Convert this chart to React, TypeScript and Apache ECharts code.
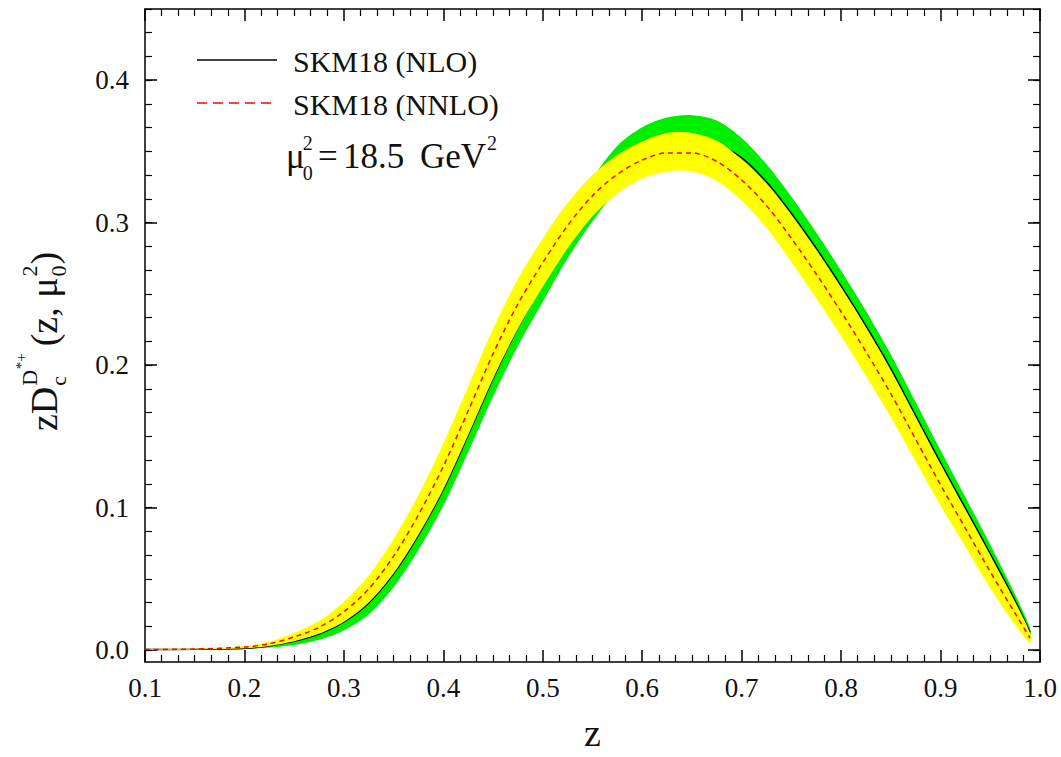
import React, { useEffect, useRef } from 'react';
import * as echarts from 'echarts';

const FONT = '"Liberation Serif", "Times New Roman", Times, serif';
const TEXT_COLOR = '#111111';

// momentum fraction z
const zValues = [
  0.1, 0.15, 0.2, 0.225, 0.25, 0.275, 0.3, 0.325, 0.35, 0.375, 0.4, 0.425,
  0.45, 0.475, 0.5, 0.525, 0.55, 0.575, 0.6, 0.625, 0.65, 0.675, 0.7, 0.725,
  0.75, 0.775, 0.8, 0.825, 0.85, 0.875, 0.9, 0.925, 0.95, 0.975, 0.99,
];

// SKM18 (NNLO) central curve and its (yellow) uncertainty band
const nnloCentral = [
  0.0005, 0.0008, 0.0022, 0.0045, 0.0093, 0.016, 0.027, 0.043, 0.066, 0.095,
  0.129, 0.168, 0.208, 0.243, 0.272, 0.298, 0.319, 0.334, 0.344, 0.349, 0.349,
  0.343, 0.33, 0.312, 0.289, 0.264, 0.2375, 0.2095, 0.18, 0.148, 0.116, 0.0855,
  0.055, 0.0258, 0.0085,
];
const nnloLower = [
  0.0003, 0.0005, 0.0014, 0.003, 0.0063, 0.0115, 0.02, 0.0335, 0.054, 0.081,
  0.113, 0.151, 0.1905, 0.2255, 0.255, 0.282, 0.3045, 0.3205, 0.331, 0.336,
  0.336, 0.3295, 0.3155, 0.2965, 0.2725, 0.247, 0.2205, 0.1925, 0.1635, 0.1325,
  0.1015, 0.0725, 0.0435, 0.0178, 0.005,
];
const nnloUpper = [
  0.0007, 0.0011, 0.003, 0.006, 0.0123, 0.0205, 0.034, 0.0525, 0.078, 0.109,
  0.145, 0.185, 0.2255, 0.2605, 0.289, 0.314, 0.3335, 0.3475, 0.357, 0.363,
  0.363, 0.3575, 0.3445, 0.3275, 0.3055, 0.281, 0.2545, 0.2265, 0.1965, 0.1635,
  0.1305, 0.0985, 0.0665, 0.0338, 0.012,
];

// SKM18 (NLO) central curve and its (green) uncertainty band
const nloCentral = [
  0.0004, 0.0006, 0.0014, 0.003, 0.0062, 0.0113, 0.0198, 0.0332, 0.0537,
  0.0808, 0.1128, 0.151, 0.1905, 0.2262, 0.2575, 0.2885, 0.3145, 0.333, 0.346,
  0.3535, 0.3565, 0.3545, 0.3455, 0.3285, 0.3065, 0.282, 0.2555, 0.2275, 0.1975,
  0.1645, 0.1315, 0.0995, 0.0675, 0.0345, 0.0125,
];
const nloLower = [
  0.0001, 0.0002, 0.0007, 0.0018, 0.0037, 0.0073, 0.0138, 0.0252, 0.0442,
  0.0703, 0.1013, 0.139, 0.178, 0.2134, 0.2445, 0.275, 0.301, 0.323, 0.337,
  0.3442, 0.3465, 0.3432, 0.3325, 0.316, 0.2947, 0.2708, 0.2447, 0.217, 0.1875,
  0.155, 0.1227, 0.0917, 0.061, 0.03, 0.0095,
];
const nloUpper = [
  0.0007, 0.001, 0.0021, 0.0042, 0.0087, 0.0153, 0.0258, 0.0412, 0.0632,
  0.0913, 0.1243, 0.163, 0.203, 0.239, 0.2705, 0.302, 0.331, 0.354, 0.367,
  0.3738, 0.3755, 0.3718, 0.3595, 0.341, 0.3183, 0.2932, 0.2663, 0.238, 0.2075,
  0.174, 0.1403, 0.1073, 0.074, 0.039, 0.0155,
];

const legendLabels = ['SKM18 (NLO)', 'SKM18 (NNLO)'];
const xAxisTitle = 'z';
const yTickValues = [0, 0.1, 0.2, 0.3, 0.4];
const Y_MIN = -0.0083;
const Y_MAX = 0.45;

function measure(text: string, size: number): number {
  const ctx = document.createElement('canvas').getContext('2d');
  if (!ctx) return text.length * size * 0.5;
  ctx.font = `${size}px ${FONT}`;
  return ctx.measureText(text).width;
}

function txt(text: string, x: number, y: number, size: number) {
  return {
    type: 'text',
    x,
    y,
    silent: true,
    style: {
      text,
      fontSize: size,
      fontFamily: FONT,
      fill: TEXT_COLOR,
      align: 'left',
      verticalAlign: 'middle',
      textAlign: 'left',
      textVerticalAlign: 'middle',
    },
  };
}

function pairs(ys: number[]) {
  return zValues.map((z, i) => [z, ys[i]]);
}

function bandSeries(name: string, lo: number[], hi: number[], color: string, z: number) {
  return {
    name,
    type: 'custom',
    silent: true,
    clip: true,
    z,
    data: zValues.map((zz, i) => [zz, lo[i], hi[i]]),
    encode: { x: 0, y: [1, 2] },
    renderItem: (params: any, api: any) => {
      if (params.dataIndex !== 0) return null;
      const top = zValues.map((zz, i) => api.coord([zz, hi[i]]));
      const bottom = zValues.map((zz, i) => api.coord([zz, lo[i]])).reverse();
      return {
        type: 'polygon',
        shape: { points: top.concat(bottom), smooth: 0.3 },
        style: { fill: color, stroke: null },
      };
    },
  };
}

function buildYTitle() {
  const children: any[] = [];
  const main = 38;
  const small = 22;
  const tiny = 15;
  let cx = 0;
  children.push(txt('zD', cx, 0, main));
  cx += measure('zD', main);
  const s1 = cx + 1;
  const dW = measure('D', small);
  children.push(txt('D', s1, -15, small));
  children.push(txt('*+', s1 + dW + 0.5, -23, tiny));
  children.push(txt('c', s1, 14, small));
  cx = s1 + Math.max(dW + 0.5 + measure('*+', tiny), measure('c', small)) + 7;
  children.push(txt('(z, μ', cx, 0, main));
  cx += measure('(z, μ', main);
  children.push(txt('2', cx + 1, -15, small));
  children.push(txt('0', cx + 1, 14, small));
  cx += 2 + measure('0', small);
  children.push(txt(')', cx, 0, main));
  return {
    type: 'group',
    x: 44,
    y: 431,
    rotation: Math.PI / 2,
    children,
  };
}

function buildScaleLabel() {
  const main = 35;
  const small = 20;
  const out: any[] = [];
  const base = 168;
  const mid = (b: number, s: number) => b - 0.34 * s;
  out.push(txt('μ', 286, mid(base, main), main));
  const sx = 286 + measure('μ', main) - 2;
  out.push(txt('0', sx, mid(180, small), small));
  out.push(txt('2', sx, mid(150, small), small));
  out.push(txt('=', 318, mid(base, main), main));
  out.push(txt('18.5', 343, mid(base, main), main));
  out.push(txt('GeV', 420, mid(base, main), main));
  const gx = 420 + measure('GeV', main) + 1;
  out.push(txt('2', gx, mid(150, small), small));
  return out;
}

function buildLegend() {
  return [
    {
      type: 'line',
      silent: true,
      shape: { x1: 197, y1: 60, x2: 277, y2: 60 },
      style: { stroke: '#000000', lineWidth: 1.5 },
    },
    txt(legendLabels[0], 293, 61, 30),
    {
      type: 'line',
      silent: true,
      shape: { x1: 197, y1: 103, x2: 277, y2: 103 },
      style: { stroke: '#ff0000', lineWidth: 1.5, lineDash: [10, 6] },
    },
    txt(legendLabels[1], 293, 104, 30),
  ];
}

export default function App() {
  const ref = useRef<HTMLDivElement>(null);

  useEffect(() => {
    if (!ref.current) return;
    const chart = echarts.init(ref.current, undefined, { renderer: 'svg' });

    const yMinorTicks: number[] = [];
    for (let k = 0; k <= 27; k++) yMinorTicks.push(+(k / 60).toFixed(6));

    const axisLine = { show: true, onZero: false, lineStyle: { color: '#000', width: 1.5 } };
    const majorTick = { show: true, inside: true, length: 12, lineStyle: { color: '#000', width: 1.5 } };
    const minorTickStyle = { show: true, splitNumber: 6, length: 7, lineStyle: { color: '#000', width: 1.2 } };

    const xCommon = {
      type: 'value',
      min: 0.1,
      max: 1.0,
      interval: 0.1,
      splitLine: { show: false },
      minorSplitLine: { show: false },
      axisLine,
      axisTick: majorTick,
      minorTick: minorTickStyle,
    };

    const yCommon = {
      type: 'value',
      min: Y_MIN,
      max: Y_MAX,
      splitLine: { show: false },
      minorSplitLine: { show: false },
    };

    const option: any = {
      animation: false,
      backgroundColor: '#ffffff',
      textStyle: { fontFamily: FONT, color: TEXT_COLOR },
      grid: { left: 145, right: 21, top: 9, bottom: 90, containLabel: false },
      xAxis: [
        {
          ...xCommon,
          position: 'bottom',
          name: xAxisTitle,
          nameLocation: 'middle',
          nameGap: 52,
          nameTextStyle: { fontSize: 38, fontFamily: FONT, color: TEXT_COLOR },
          axisLabel: {
            show: true,
            fontSize: 27,
            fontFamily: FONT,
            color: TEXT_COLOR,
            margin: 12,
            formatter: (v: number) => v.toFixed(1),
          },
        },
        {
          ...xCommon,
          position: 'top',
          axisLabel: { show: false },
        },
      ],
      yAxis: [
        {
          ...yCommon,
          position: 'left',
          axisLine,
          axisTick: { ...majorTick, customValues: yTickValues },
          axisLabel: {
            show: true,
            customValues: yTickValues,
            fontSize: 27,
            fontFamily: FONT,
            color: TEXT_COLOR,
            margin: 16,
            formatter: (v: number) => v.toFixed(1),
          },
        },
        {
          ...yCommon,
          position: 'left',
          axisLine: { show: false },
          axisTick: { show: true, inside: true, length: 7, customValues: yMinorTicks, lineStyle: { color: '#000', width: 1.2 } },
          axisLabel: { show: false },
        },
        {
          ...yCommon,
          position: 'right',
          axisLine,
          axisTick: { ...majorTick, customValues: yTickValues },
          axisLabel: { show: false },
        },
        {
          ...yCommon,
          position: 'right',
          axisLine: { show: false },
          axisTick: { show: true, inside: true, length: 7, customValues: yMinorTicks, lineStyle: { color: '#000', width: 1.2 } },
          axisLabel: { show: false },
        },
      ],
      series: [
        bandSeries('NLO band', nloLower, nloUpper, '#00ee00', 1),
        {
          name: legendLabels[0],
          type: 'line',
          z: 2,
          data: pairs(nloCentral),
          symbol: 'none',
          smooth: 0.3,
          silent: true,
          lineStyle: { color: '#000000', width: 1.5 },
          itemStyle: { color: '#000000' },
        },
        bandSeries('NNLO band', nnloLower, nnloUpper, '#ffff00', 3),
        {
          name: legendLabels[1],
          type: 'line',
          z: 4,
          data: pairs(nnloCentral),
          symbol: 'none',
          smooth: 0.3,
          silent: true,
          lineStyle: { color: '#ff0000', width: 1.5, type: [5, 4] },
          itemStyle: { color: '#ff0000' },
        },
      ],
      graphic: [...buildLegend(), ...buildScaleLabel(), buildYTitle()],
    };

    chart.setOption(option);
    return () => {
      chart.dispose();
    };
  }, []);

  return (
    <div
      ref={ref}
      style={{ position: 'fixed', left: 0, top: 0, width: 1061, height: 757, background: '#fff' }}
    />
  );
}
